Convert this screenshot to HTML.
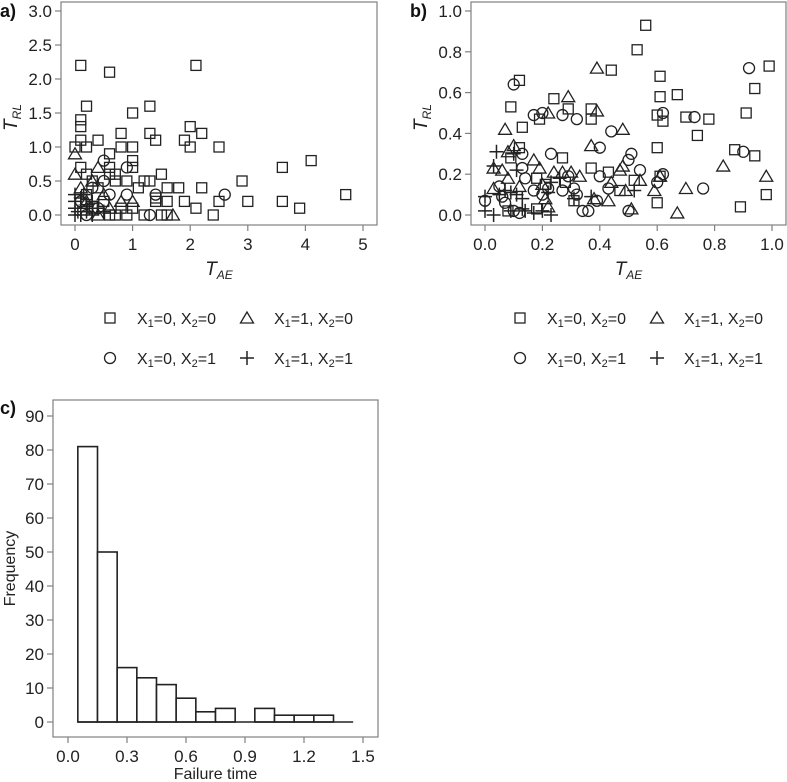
<!DOCTYPE html>
<html><head><meta charset="utf-8"><style>
body{margin:0;background:#fff;}
svg{display:block;font-family:"Liberation Sans",Arial,sans-serif;}
</style></head><body>
<svg id="svg" width="787" height="782" viewBox="0 0 787 782"></svg>
<script>
const aSquares=[[0.1,2.2],[0.6,2.1],[2.1,2.2],[0.2,1.6],[1.3,1.6],[0.1,1.4],[0.1,1.3],[1.0,1.5],[2.0,1.3],[0.8,1.2],[1.3,1.2],[2.2,1.2],[0.1,1.1],[0.4,1.1],[1.4,1.1],[1.9,1.1],[0,1.0],[0.2,1.0],[0.8,1.0],[1.0,1.0],[2.0,1.0],[2.5,1.0],[0.6,0.9],[1.0,0.8],[4.1,0.8],[0.1,0.7],[0.6,0.7],[1.0,0.7],[3.6,0.7],[0.2,0.6],[0.6,0.6],[0.7,0.6],[1.5,0.6],[0.3,0.5],[0.7,0.5],[0.9,0.5],[1.2,0.5],[1.3,0.5],[2.9,0.5],[1.1,0.4],[1.6,0.4],[1.8,0.4],[2.2,0.4],[4.7,0.3],[1.4,0.2],[1.6,0.2],[1.9,0.2],[2.5,0.2],[3.0,0.2],[3.6,0.2],[1.0,0.1],[2.1,0.1],[3.9,0.1],[1.2,0],[1.5,0],[1.6,0],[2.4,0],[0.9,0],[0.7,0],[0.2,0.3],[0.5,0.2],[0.8,0.1],[0.3,0.1],[0.6,0.0],[0.4,0.4],[1.4,0.25]];
const aCircles=[[2.6,0.3],[1.4,0.3],[1.3,0],[0.9,0.7],[0.5,0.8],[0.9,0.3],[0.3,0.4],[0.1,0.2],[0.4,0.1],[0.6,0.3],[0.2,0.0],[0.5,0.5]];
const aTriangles=[[0,0.9],[0,0.6],[0.4,0.7],[1.7,0],[1.0,0.2],[0.8,0.2],[0.3,0.5],[0.1,0.4],[0.5,0.3],[0.2,0.2],[0.6,0.1],[0.4,0]];
const aPlus=[[0,0.3],[0,0.2],[0,0.1],[0,0],[0.1,0.25],[0.1,0.1],[0.1,0],[0.2,0.15],[0.2,0.05],[0.3,0.2],[0.3,0],[0.4,0.1],[0.15,0.3],[0.05,0.05],[0.25,0.1],[0.5,0.05]];
const bSquares=[[0.56,0.93],[0.53,0.81],[0.44,0.71],[0.99,0.73],[0.61,0.68],[0.12,0.66],[0.94,0.62],[0.24,0.57],[0.61,0.58],[0.67,0.59],[0.09,0.53],[0.29,0.52],[0.37,0.52],[0.37,0.47],[0.19,0.47],[0.13,0.43],[0.60,0.49],[0.62,0.46],[0.70,0.48],[0.78,0.47],[0.91,0.50],[0.74,0.39],[0.60,0.33],[0.87,0.32],[0.94,0.29],[0.27,0.28],[0.12,0.33],[0.37,0.23],[0.43,0.21],[0.61,0.19],[0.18,0.18],[0.28,0.16],[0.52,0.17],[0.47,0.12],[0.31,0.07],[0.60,0.06],[0.89,0.04],[0.98,0.10],[0.08,0.02],[0.18,0.03],[0.09,0.28],[0.21,0.15]];
const bCircles=[[0.10,0.64],[0.92,0.72],[0.17,0.49],[0.20,0.50],[0.27,0.49],[0.32,0.47],[0.44,0.41],[0.62,0.50],[0.73,0.48],[0.40,0.33],[0.90,0.31],[0.23,0.30],[0.51,0.30],[0.50,0.27],[0.13,0.23],[0.13,0.30],[0.54,0.22],[0.40,0.19],[0.14,0.18],[0.29,0.19],[0.62,0.20],[0.60,0.16],[0.76,0.13],[0.43,0.13],[0.27,0.12],[0.31,0.13],[0.05,0.14],[0.06,0.09],[0.0,0.07],[0.07,0.06],[0.10,0.02],[0.12,0.01],[0.17,0.12],[0.20,0.10],[0.34,0.02],[0.36,0.02],[0.50,0.02],[0.22,0.13],[0.32,0.10],[0.39,0.07]];
const bTriangles=[[0.39,0.72],[0.29,0.58],[0.22,0.50],[0.39,0.51],[0.07,0.42],[0.48,0.42],[0.10,0.34],[0.37,0.34],[0.08,0.31],[0.17,0.27],[0.19,0.23],[0.03,0.23],[0.06,0.22],[0.08,0.18],[0.24,0.21],[0.27,0.21],[0.30,0.21],[0.33,0.19],[0.47,0.22],[0.48,0.24],[0.83,0.24],[0.98,0.19],[0.44,0.16],[0.54,0.17],[0.61,0.19],[0.59,0.12],[0.70,0.13],[0.67,0.01],[0.51,0.03],[0.43,0.07],[0.38,0.08],[0.03,0.13],[0.12,0.14],[0.21,0.08],[0.22,0.04],[0.49,0.12],[0.20,0.15]];
const bPlus=[[0.04,0.31],[0.03,0.24],[0.10,0.30],[0.11,0.22],[0.0,0.09],[0.05,0.10],[0.09,0.11],[0.11,0.10],[0.13,0.08],[0.0,0.02],[0.03,0.0],[0.09,0.02],[0.14,0.02],[0.17,0.01],[0.20,0.02],[0.23,0.0],[0.22,0.11],[0.23,0.16],[0.26,0.18],[0.31,0.08],[0.37,0.09],[0.52,0.12],[0.13,0.03],[0.07,0.12]];
const aXTicks=["0","1","2","3","4","5"];
const aYTicks=["0.0","0.5","1.0","1.5","2.0","2.5","3.0"];
const bXTicks=["0.0","0.2","0.4","0.6","0.8","1.0"];
const bYTicks=["0.0","0.2","0.4","0.6","0.8","1.0"];
const histBinStarts=[0.05,0.15,0.25,0.35,0.45,0.55,0.65,0.75,0.85,0.95,1.05,1.15,1.25,1.35];
const histCounts=[81,50,16,13,11,7,3,4,0,4,2,2,2,0];
const cXTicks=["0.0","0.3","0.6","0.9","1.2","1.5"];
const cYTicks=["0","10","20","30","40","50","60","70","80","90"];

const NS="http://www.w3.org/2000/svg";
const svg=document.getElementById('svg');
function mk(tag,attrs,parent){const e=document.createElementNS(NS,tag);for(const k in attrs)e.setAttribute(k,attrs[k]);(parent||svg).appendChild(e);return e;}
const INK="#222",FR="#808080";
function txt(x,y,s,size,anchor,parent){const t=mk('text',{x:x,y:y,'font-size':size,'text-anchor':anchor||'middle',fill:INK},parent);t.textContent=s;return t;}
function marker(g,type,cx,cy){
  let e;
  if(type==='sq'){e=mk('rect',{x:cx-5,y:cy-5,width:10,height:10,fill:'none',stroke:INK,'stroke-width':1.3},g);}
  else if(type==='ci'){e=mk('circle',{cx:cx,cy:cy,r:5.5,fill:'none',stroke:INK,'stroke-width':1.3},g);}
  else if(type==='tr'){e=mk('polygon',{points:`${cx},${cy-6} ${cx-6.5},${cy+5} ${cx+6.5},${cy+5}`,fill:'none',stroke:INK,'stroke-width':1.3},g);}
  else {e=mk('path',{d:`M${cx-7},${cy}H${cx+7}M${cx},${cy-7}V${cy+7}`,stroke:INK,'stroke-width':1.5,fill:'none'},g);}
  return e;
}
function scatter(opt){
  const g=mk('g',{});
  
  
  const xs=v=>opt.x0+(v-opt.xmin)/(opt.xmax-opt.xmin)*(opt.x1-opt.x0);
  const ys=v=>opt.y0-(v-opt.ymin)/(opt.ymax-opt.ymin)*(opt.y0-opt.y1);
  const fr=mk('rect',{x:opt.bx0,y:opt.by0,width:opt.bx1-opt.bx0,height:opt.by1-opt.by0,fill:'none',stroke:FR,'stroke-width':1.2},g);
  
  
  opt.xt.forEach(s=>{const X=xs(parseFloat(s));mk('line',{x1:X,x2:X,y1:opt.by1,y2:opt.by1+6,stroke:FR,'stroke-width':1.2},g);const t=txt(X,opt.by1+25,s,17,'middle',g);});
  opt.yt.forEach(s=>{const Y=ys(parseFloat(s));mk('line',{x1:opt.bx0-6,x2:opt.bx0,y1:Y,y2:Y,stroke:FR,'stroke-width':1.2},g);const t=txt(opt.bx0-9,Y+6,s,17,'end',g);});
  const sets=[[opt.sq,'sq','square-point'],[opt.ci,'ci','circle-point'],[opt.tr,'tr','triangle-point'],[opt.pl,'pl','plus-point']];
  sets.forEach(([arr,type,nm])=>arr.forEach(p=>{const e=marker(g,type,xs(p[0]),ys(p[1]));}));
  // axis titles
  const xt=mk('text',{x:(opt.bx0+opt.bx1)/2,y:opt.by1+50,'font-size':19,'font-style':'italic','text-anchor':'middle',fill:INK},g);
  xt.innerHTML='T<tspan font-size="12" dy="4">AE</tspan>';
  
  
  const yt=mk('text',{x:0,y:0,'font-size':19,'font-style':'italic','text-anchor':'middle',fill:INK,transform:`translate(${opt.bx0-44},${(opt.by0+opt.by1)/2+4}) rotate(-90)`},g);
  yt.innerHTML='T<tspan font-size="12" dy="4">RL</tspan>';
  
  
  const pl=mk('text',{x:opt.bx0-61,y:17,'font-size':18,'font-weight':'bold','text-anchor':'start',fill:'#111'},g);
  pl.textContent=opt.label;
  
  
}
scatter({name:'scatter-panel-a',label:'a)',bx0:61,bx1:377,by0:2,by1:225,x0:75,x1:363,xmin:0,xmax:5,y0:215,y1:11,ymin:0,ymax:3,xt:aXTicks,yt:aYTicks,sq:aSquares,ci:aCircles,tr:aTriangles,pl:aPlus});
scatter({name:'scatter-panel-b',label:'b)',bx0:471,bx1:786,by0:2,by1:225,x0:485,x1:772,xmin:0,xmax:1,y0:215,y1:11,ymin:0,ymax:1,xt:bXTicks,yt:bYTicks,sq:bSquares,ci:bCircles,tr:bTriangles,pl:bPlus});

function legend(ox,name){
  const g=mk('g',{});
  
  
  const items=[['sq',0,0,'X','0','0'],['tr',137,0,'X','1','0'],['ci',0,40,'X','0','1'],['pl',137,40,'X','1','1']];
  items.forEach(it=>{
    const e=marker(g,it[0],ox+it[1],318+it[2]);
    
    
    const t=mk('text',{x:ox+it[1]+27,y:318+it[2]+6,'font-size':16,fill:INK},g);
    t.innerHTML=`X<tspan font-size="11" dy="3">1</tspan><tspan dy="-3">=${it[4]}, X</tspan><tspan font-size="11" dy="3">2</tspan><tspan dy="-3">=${it[5]}</tspan>`;
    
    
  });
}
legend(110,'legend-a');
legend(520,'legend-b');

// histogram
(function(){
  const g=mk('g',{});
  
  
  const bx0=53,bx1=378,by0=400,by1=737;
  const xs=v=>68+v/1.5*(363-68);
  const ys=v=>722-v/90*(722-416);
  const fr=mk('rect',{x:bx0,y:by0,width:bx1-bx0,height:by1-by0,fill:'none',stroke:FR,'stroke-width':1.2},g);
  
  
  cXTicks.forEach(s=>{const X=xs(parseFloat(s));mk('line',{x1:X,x2:X,y1:by1,y2:by1+6,stroke:FR,'stroke-width':1.2},g);const t=txt(X,by1+25,s,17,'middle',g);});
  cYTicks.forEach(s=>{const Y=ys(parseFloat(s));mk('line',{x1:bx0-6,x2:bx0,y1:Y,y2:Y,stroke:FR,'stroke-width':1.2},g);const t=txt(bx0-9,Y+6,s,17,'end',g);});
  histCounts.forEach((c,i)=>{
    const x0=xs(histBinStarts[i]),x1=xs(histBinStarts[i]+0.1);
    const r=mk('rect',{x:x0,y:ys(c),width:x1-x0,height:ys(0)-ys(c),fill:'#fff',stroke:INK,'stroke-width':1.6},g);
    
    
  });
  const bl=mk('line',{x1:xs(histBinStarts[0]),x2:xs(histBinStarts[histBinStarts.length-1]+0.1),y1:ys(0),y2:ys(0),stroke:INK,'stroke-width':1.6},g);
  
  
  const xt=txt((bx0+bx1)/2,779,'Failure time',16,'middle',g);
  
  
  const yt=mk('text',{x:0,y:0,'font-size':16,'text-anchor':'middle',fill:INK,transform:`translate(15,${(by0+by1)/2}) rotate(-90)`},g);
  yt.textContent='Frequency';
  
  
  const pl=mk('text',{x:0,y:414,'font-size':18,'font-weight':'bold',fill:'#111'},g);
  pl.textContent='c)';
  
  
})();
</script>
</body></html>
